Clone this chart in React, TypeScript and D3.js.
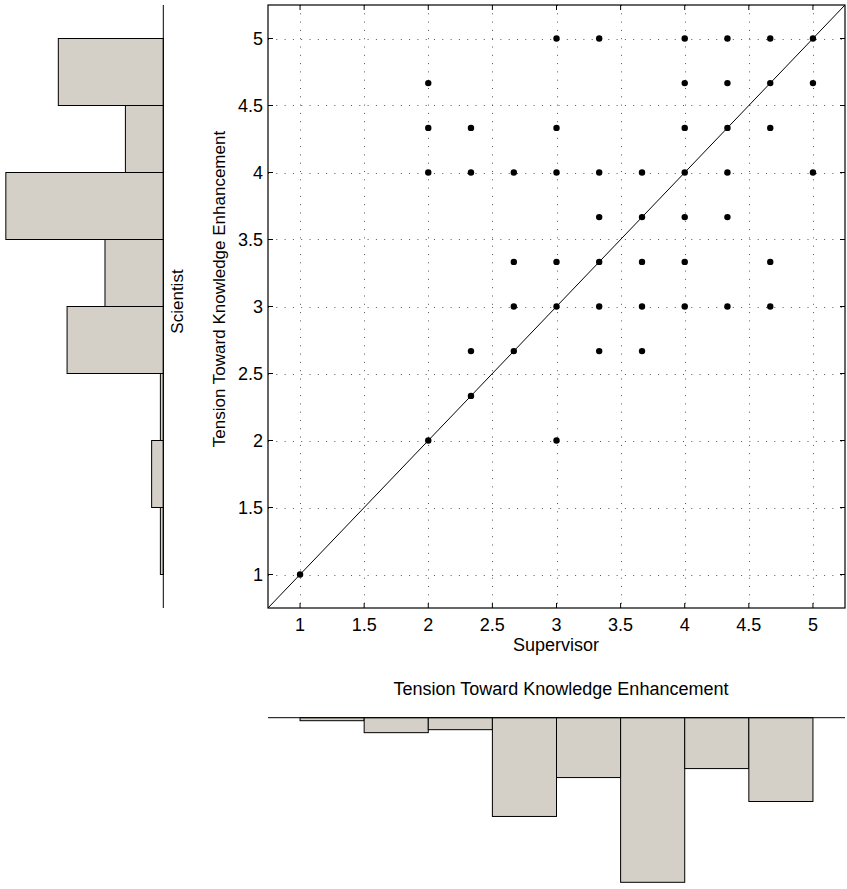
import React from "react";
import * as d3 from "d3";

// ---- Data ----
const binEdges = [1, 1.5, 2, 2.5, 3, 3.5, 4, 4.5, 5];
// Scientist histogram counts (bins from 1 upward)
const scientistCounts = [1, 4, 1, 33, 20, 54, 13, 36];
// Supervisor histogram counts (bins from 1 upward)
const supervisorCounts = [1, 5, 4, 33, 20, 55, 17, 28];

// Scatter points: supervisor (x), scientist (y)
const pointX = [
  3, 3.333, 4, 4.333, 4.667, 5,
  2, 4, 4.333, 4.667, 5,
  2, 2.333, 3, 4, 4.333, 4.667,
  2, 2.333, 2.667, 3, 3.333, 3.667, 4, 4.333, 5,
  3.333, 3.667, 4, 4.333,
  2.667, 3, 3.333, 3.667, 4, 4.667,
  2.667, 3, 3.333, 3.667, 4, 4.333, 4.667,
  2.333, 2.667, 3.333, 3.667,
  2.333,
  2, 3,
  1,
];
const pointY = [
  5, 5, 5, 5, 5, 5,
  4.667, 4.667, 4.667, 4.667, 4.667,
  4.333, 4.333, 4.333, 4.333, 4.333, 4.333,
  4, 4, 4, 4, 4, 4, 4, 4, 4,
  3.667, 3.667, 3.667, 3.667,
  3.333, 3.333, 3.333, 3.333, 3.333, 3.333,
  3, 3, 3, 3, 3, 3, 3,
  2.667, 2.667, 2.667, 2.667,
  2.333,
  2, 2,
  1,
];

const ticks = [1, 1.5, 2, 2.5, 3, 3.5, 4, 4.5, 5];
const axisDomain: [number, number] = [0.75, 5.25];

const xLabel = "Supervisor";
const yLabel = "Tension Toward Knowledge Enhancement";
const leftHistLabel = "Scientist";
const bottomHistTitle = "Tension Toward Knowledge Enhancement";

export default function App() {
  const W = 847;
  const H = 889;
  const plotL = 268, plotR = 845, plotT = 5, plotB = 608;
  const x = d3.scaleLinear().domain(axisDomain).range([plotL, plotR]);
  const y = d3.scaleLinear().domain(axisDomain).range([plotB, plotT]);

  const leftBase = 163.3;
  const hx = d3.scaleLinear().domain([0, 56]).range([leftBase, 0]);
  const bottomBase = 717.7;
  const hy = d3.scaleLinear().domain([0, 55]).range([bottomBase, 882.3]);

  const font = "'Liberation Sans', Arial, Helvetica, sans-serif";
  const fill = "#d4d0c8";
  const tickLen = 5;

  const diag = d3.line<number>().x((d) => x(d)).y((d) => y(d));

  return (
    <svg
      width={W}
      height={H}
      style={{ position: "absolute", left: 0, top: 0, background: "#fff" }}
      fontFamily={font}
    >
      <rect x={0} y={0} width={W} height={H} fill="#fff" />
      {/* grid */}
      <g stroke="#555" strokeWidth={1} strokeDasharray="1,7.3">
        {ticks.map((t) => (
          <line key={"gx" + t} x1={Math.round(x(t)) + 0.5} x2={Math.round(x(t)) + 0.5} y1={plotT} y2={plotB} />
        ))}
        {ticks.map((t) => (
          <line key={"gy" + t} y1={Math.round(y(t)) + 0.5} y2={Math.round(y(t)) + 0.5} x1={plotL} x2={plotR} />
        ))}
      </g>
      {/* diagonal */}
      <path d={diag(axisDomain) || ""} stroke="#000" strokeWidth={1} fill="none" />
      {/* points */}
      <g fill="#000">
        {pointX.map((px, i) => (
          <circle key={i} cx={x(px)} cy={y(pointY[i])} r={3.2} />
        ))}
      </g>
      {/* box */}
      <rect x={plotL} y={plotT} width={plotR - plotL} height={plotB - plotT} fill="none" stroke="#000" strokeWidth={1.2} />
      {/* ticks */}
      <g stroke="#000" strokeWidth={1}>
        {ticks.map((t) => (
          <g key={"t" + t}>
            <line x1={x(t)} x2={x(t)} y1={plotB} y2={plotB - tickLen} />
            <line x1={x(t)} x2={x(t)} y1={plotT} y2={plotT + tickLen} />
            <line y1={y(t)} y2={y(t)} x1={plotL} x2={plotL + tickLen} />
            <line y1={y(t)} y2={y(t)} x1={plotR} x2={plotR - tickLen} />
          </g>
        ))}
      </g>
      {/* tick labels */}
      <g fontSize={18} fill="#000">
        {ticks.map((t) => (
          <text key={"xl" + t} x={x(t)} y={631} textAnchor="middle">
            {String(t)}
          </text>
        ))}
        {ticks.map((t) => (
          <text key={"yl" + t} x={263} y={y(t) + 6.5} textAnchor="end">
            {String(t)}
          </text>
        ))}
      </g>
      {/* axis labels */}
      <text x={556} y={651} textAnchor="middle" fontSize={18}>
        {xLabel}
      </text>
      <text
        transform={`translate(224.5, 289) rotate(-90)`}
        textAnchor="middle"
        fontSize={17}
      >
        {yLabel}
      </text>
      <text
        transform={`translate(183, 301.5) rotate(-90)`}
        textAnchor="middle"
        fontSize={17}
      >
        {leftHistLabel}
      </text>
      <text x={561} y={695} textAnchor="middle" fontSize={18}>
        {bottomHistTitle}
      </text>

      {/* left histogram */}
      <g>
        {scientistCounts.map((c, i) => {
          const y0 = y(binEdges[i + 1]);
          const y1 = y(binEdges[i]);
          return (
            <rect
              key={"lh" + i}
              x={hx(c)}
              y={y0}
              width={leftBase - hx(c)}
              height={y1 - y0}
              fill={fill}
              stroke="#000"
              strokeWidth={1}
            />
          );
        })}
        <line x1={leftBase} x2={leftBase} y1={plotT} y2={plotB} stroke="#000" strokeWidth={1} />
      </g>

      {/* bottom histogram */}
      <g>
        {supervisorCounts.map((c, i) => {
          const x0 = x(binEdges[i]);
          const x1 = x(binEdges[i + 1]);
          return (
            <rect
              key={"bh" + i}
              x={x0}
              y={bottomBase}
              width={x1 - x0}
              height={hy(c) - bottomBase}
              fill={fill}
              stroke="#000"
              strokeWidth={1}
            />
          );
        })}
        <line x1={plotL} x2={plotR} y1={bottomBase} y2={bottomBase} stroke="#000" strokeWidth={1} />
      </g>
    </svg>
  );
}
